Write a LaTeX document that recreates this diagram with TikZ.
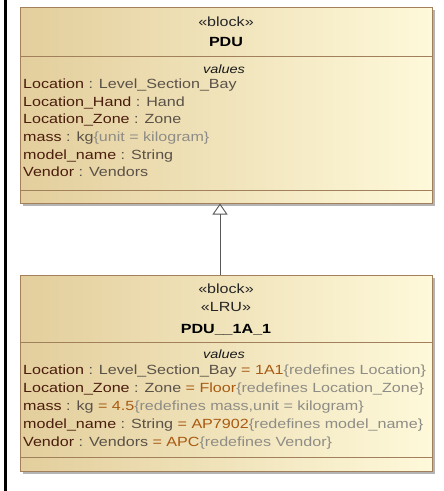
\documentclass[tikz,border=0pt]{standalone}
\usepackage{fontspec}
\setmainfont{Liberation Sans}[FakeStretch=1.21]
\usetikzlibrary{arrows.meta}
\definecolor{bord}{HTML}{A3805C}
\definecolor{lc}{HTML}{E3CE9C}
\definecolor{rc}{HTML}{FEF9DA}
\definecolor{nmc}{HTML}{4A1C0C}
\definecolor{tyc}{HTML}{5A5248}
\definecolor{vac}{HTML}{A85A12}
\definecolor{coc}{HTML}{8E8C86}
\definecolor{shc}{HTML}{B4B4B4}
\newcommand\nm[1]{\textcolor{nmc}{#1}}
\newcommand\ty[1]{\textcolor{tyc}{#1}}
\newcommand\va[1]{\textcolor{vac}{#1}}
\newcommand\co[1]{\textcolor{coc}{#1}}
\begin{document}
\begin{tikzpicture}[x=1pt,y=-1pt,
  blockbox/.style={draw=bord, line width=1pt, left color=lc, right color=rc,
    minimum width=412pt, minimum height=196pt, inner sep=0pt},
  shadowbox/.style={fill=shc, draw=none, minimum width=412pt, minimum height=196pt, inner sep=0pt},
  sep/.style={draw=bord, line width=1pt},
  row/.style={anchor=base west, inner sep=0pt, font=\fontsize{13.3}{15}\selectfont},
  hdr/.style={anchor=base, inner sep=0pt, font=\fontsize{13.3}{15}\selectfont, text=black!85},
  hdrb/.style={anchor=base, inner sep=0pt, font=\fontsize{13.3}{15}\selectfont\bfseries, text=black},
  valh/.style={anchor=base, inner sep=0pt, font=\fontsize{12}{14}\selectfont\itshape, text=black!90},
  gen/.style={draw=black!65, line width=0.9pt, -{Triangle[open, width=15pt, length=11pt]}}]
\useasboundingbox (0,0) rectangle (444,491);
\fill[white] (0,0) rectangle (444,491);
\fill[black] (4,0) rectangle (7,491);
% shadows
\node[shadowbox] (s1) at (229,108) {};
\node[shadowbox] (s2) at (229,376) {};
% block 1
\node[blockbox] (b1) at (226,105) {};
\draw[sep] (20,56) -- (432,56);
\draw[sep] (20,190) -- (432,190);
\node[hdr] (b1st) at (226,26) {«block»};
\node[hdrb] (b1nm) at (226,46) {PDU};
\node[valh] (b1val) at (224,73) {values};
\node[row] (b1r1) at (23,88.3) {\nm{Location} \ty{: Level\_Section\_Bay}};
\node[row] (b1r2) at (23,106) {\nm{Location\_Hand} \ty{: Hand}};
\node[row] (b1r3) at (23,123.7) {\nm{Location\_Zone} \ty{: Zone}};
\node[row] (b1r4) at (23,141.4) {\nm{mass} \ty{: kg}\co{\{unit = kilogram\}}};
\node[row] (b1r5) at (23,159) {\nm{model\_name} \ty{: String}};
\node[row] (b1r6) at (23,176.8) {\nm{Vendor} \ty{: Vendors}};
% block 2
\node[blockbox] (b2) at (226,373) {};
\draw[sep] (20,342) -- (432,342);
\draw[sep] (20,457) -- (432,457);
\node[hdr] (b2st1) at (226,293) {«block»};
\node[hdr] (b2st2) at (226,311) {«LRU»};
\node[hdrb] (b2nm) at (226,333) {PDU\_\_1A\_1};
\node[valh] (b2val) at (224,358) {values};
\node[row] (b2r1) at (23,374) {\nm{Location} \ty{: Level\_Section\_Bay} \va{= 1A1}\co{\{redefines Location\}}};
\node[row] (b2r2) at (23,392) {\nm{Location\_Zone} \ty{: Zone} \va{= Floor}\co{\{redefines Location\_Zone\}}};
\node[row] (b2r3) at (23,410) {\nm{mass} \ty{: kg} \va{= 4.5}\co{\{redefines mass,unit = kilogram\}}};
\node[row] (b2r4) at (23,428) {\nm{model\_name} \ty{: String} \va{= AP7902}\co{\{redefines model\_name\}}};
\node[row] (b2r5) at (23,446) {\nm{Vendor} \ty{: Vendors} \va{= APC}\co{\{redefines Vendor\}}};
% generalization
\draw[gen] ([xshift=-6pt]b2.north) -- ([xshift=-6pt]b1.south);
\end{tikzpicture}
\end{document}
